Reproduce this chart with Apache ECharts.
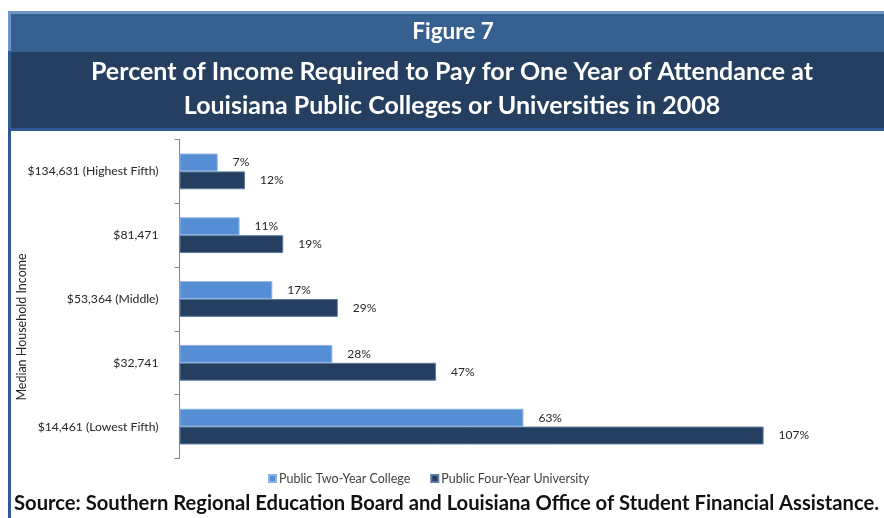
<!DOCTYPE html>
<html>
<head>
<meta charset="utf-8">
<script src="https://cdn.jsdelivr.net/npm/echarts@6/dist/echarts.min.js"></script>
<style>
html,body{margin:0;padding:0;background:#fff;}
#chart{width:884px;height:518px;}
</style>
</head>
<body>
<div id="chart"></div>
<script>
const categories = ['$134,631 (Highest Fifth)', '$81,471', '$53,364 (Middle)', '$32,741', '$14,461 (Lowest Fifth)'];
const twoYear = [7, 11, 17, 28, 63];
const fourYear = [12, 19, 29, 47, 107];
const seriesNames = ['Public Two-Year College', 'Public Four-Year University'];
const figureLabel = 'Figure 7';
const titleLines = ['Percent of Income Required to Pay for One Year of Attendance at', 'Louisiana Public Colleges or Universities in 2008'];
const yAxisName = 'Median Household Income';
const sourceText = 'Source: Southern Regional Education Board and Louisiana Office of Student Financial Assistance.';

const FONT = 'Lato';
const chart = echarts.init(document.getElementById('chart'), null, {renderer: 'canvas'});

const label = {
  show: true, position: 'right', distance: 15,
  formatter: p => p.value + '%',
  fontFamily: FONT, fontSize: 12, color: '#262626'
};

chart.setOption({
  animation: false,
  backgroundColor: '#ffffff',
  textStyle: {fontFamily: FONT},
  grid: {left: 179.5, right: 104, top: 139.5, bottom: 59.5, containLabel: false},
  legend: {
    data: seriesNames,
    top: 467, left: 263,
    icon: 'rect', itemWidth: 7, itemHeight: 7, itemGap: 20,
    textStyle: {fontFamily: FONT, fontSize: 12.5, color: '#404040', padding: [0, 0, 0, -2]}
  },
  xAxis: {type: 'value', min: 0, max: 110, show: false},
  yAxis: {
    type: 'category', data: categories, inverse: true,
    axisLine: {show: true, lineStyle: {color: '#868686', width: 1}},
    axisTick: {show: true, length: 5, lineStyle: {color: '#868686'}},
    axisLabel: {fontFamily: FONT, fontSize: 12.2, color: '#262626', margin: 21},
    splitLine: {show: false}
  },
  series: [
    {
      name: seriesNames[0], type: 'bar', data: twoYear,
      barGap: '0%', barCategoryGap: '44%',
      itemStyle: {color: '#558ed5', borderColor: '#8db3e2', borderWidth: 1},
      label: label
    },
    {
      name: seriesNames[1], type: 'bar', data: fourYear,
      barGap: '0%', barCategoryGap: '44%',
      itemStyle: {color: '#243f60', borderColor: '#5a7aa0', borderWidth: 1},
      label: label
    }
  ],
  graphic: [
    {type: 'rect', shape: {x: 8, y: 11, width: 3, height: 507}, style: {fill: '#2f5a96'}, silent: true},
    {type: 'rect', shape: {x: 8, y: 11, width: 3, height: 40}, style: {fill: '#7096c8'}, silent: true},
    {type: 'rect', shape: {x: 8, y: 11, width: 876, height: 3}, style: {fill: '#7096c8'}, silent: true},
    {type: 'rect', shape: {x: 11, y: 14, width: 873, height: 38}, style: {fill: '#36608f'}, silent: true},
    {type: 'rect', shape: {x: 11, y: 52, width: 873, height: 76}, style: {fill: '#243f5f'}, silent: true},
    {type: 'rect', shape: {x: 8, y: 128, width: 876, height: 3}, style: {fill: '#2f5a96'}, silent: true},
    {type: 'text', x: 453, y: 32, style: {text: figureLabel, fill: '#ffffff', font: 'bold 22.5px ' + FONT, align: 'center', verticalAlign: 'middle'}, silent: true},
    {type: 'text', x: 452, y: 72, style: {text: titleLines[0], fill: '#ffffff', font: 'bold 25px ' + FONT, align: 'center', verticalAlign: 'middle'}, silent: true},
    {type: 'text', x: 452, y: 106, style: {text: titleLines[1], fill: '#ffffff', font: 'bold 25px ' + FONT, align: 'center', verticalAlign: 'middle'}, silent: true},
    {type: 'text', x: 22, y: 327, rotation: Math.PI / 2,
      style: {text: yAxisName, fill: '#262626', font: '12.5px ' + FONT, align: 'center', verticalAlign: 'middle'}, silent: true},
    {type: 'text', x: 14, y: 503, style: {text: sourceText, fill: '#111111', font: 'bold 20.2px ' + FONT, verticalAlign: 'middle'}, silent: true}
  ]
});
</script>
</body>
</html>
